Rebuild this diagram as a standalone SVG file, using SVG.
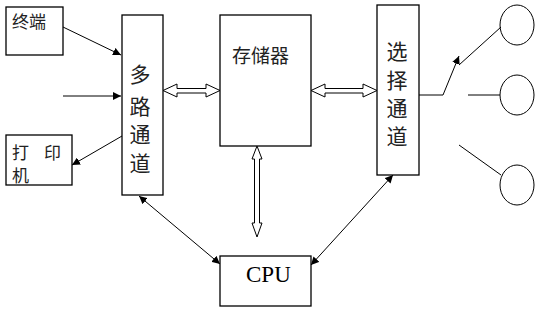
<svg xmlns="http://www.w3.org/2000/svg" width="550" height="314" viewBox="0 0 550 314">
<style>
.box{fill:#fff;stroke:#000;stroke-width:1.3}
.ln{fill:none;stroke:#000;stroke-width:1}
.hol{fill:#fff;stroke:#000;stroke-width:1}
.cjk{font-family:"Noto Sans CJK SC","Noto Sans",sans-serif;fill:#222}
.rom{font-family:"Liberation Serif",serif;fill:#000}
</style>
<defs>
<marker id="ah" viewBox="0 0 10 10" refX="10" refY="5" markerWidth="8" markerHeight="8" markerUnits="userSpaceOnUse" orient="auto-start-reverse">
<path d="M0,0 L10,5 L0,10 Z" fill="#000"/>
</marker>
</defs>
<rect width="550" height="314" fill="#fff"/>
<g id="terminal">
<rect class="box" x="6" y="7" width="57" height="48"/>
<text class="cjk" x="12" y="28" font-size="17">终端</text>
</g>
<g id="printer">
<rect class="box" x="6" y="135" width="66" height="50"/>
<text class="cjk" x="12" y="159" font-size="17">打</text>
<text class="cjk" x="44" y="159" font-size="17">印</text>
<text class="cjk" x="12" y="182" font-size="17">机</text>
</g>
<g id="multiplex">
<rect class="box" x="122" y="15" width="41" height="180"/>
<text class="cjk" font-size="21" text-anchor="middle"><tspan x="140" y="82">多</tspan><tspan x="140" y="114">路</tspan><tspan x="140" y="142">通</tspan><tspan x="140" y="171">道</tspan></text>
</g>
<g id="storage">
<rect class="box" x="220" y="15" width="91" height="131"/>
<text class="cjk" x="232" y="63" font-size="19">存储器</text>
</g>
<g id="selector">
<rect class="box" x="377" y="5" width="42" height="170"/>
<text class="cjk" font-size="21" text-anchor="middle"><tspan x="397" y="59">选</tspan><tspan x="397" y="88">择</tspan><tspan x="397" y="116">通</tspan><tspan x="397" y="144">道</tspan></text>
</g>
<g id="cpu">
<rect class="box" x="220" y="256" width="91" height="50"/>
<text class="rom" x="246" y="282" font-size="23">CPU</text>
</g>
<g id="dev1"><ellipse class="ln" cx="517" cy="25" rx="17" ry="20"/></g>
<g id="dev2"><ellipse class="ln" cx="517" cy="95" rx="17" ry="20"/></g>
<g id="dev3"><ellipse class="ln" cx="517" cy="185" rx="17" ry="20"/></g>
<g id="connectors">
<line class="ln" x1="63" y1="27" x2="121" y2="55" marker-end="url(#ah)"/>
<line class="ln" x1="63" y1="96" x2="121" y2="96" marker-end="url(#ah)"/>
<line class="ln" x1="122" y1="136" x2="72" y2="165" marker-end="url(#ah)"/>
<polygon class="hol" points="163,90.5 177,84 177,88.5 206,88.5 206,84 220,90.5 206,97 206,93 177,93 177,97"/>
<polygon class="hol" points="311,90.5 325,84 325,88.5 363,88.5 363,84 377,90.5 363,97 363,93 325,93 325,97"/>
<polygon class="hol" points="257,146 262,159 259.5,159 259.5,223 262,223 257,237 252,223 254.5,223 254.5,159 252,159"/>
<line class="ln" x1="139" y1="196" x2="220" y2="264" marker-start="url(#ah)" marker-end="url(#ah)"/>
<line class="ln" x1="393" y1="175" x2="311" y2="265" marker-start="url(#ah)" marker-end="url(#ah)"/>
<polyline class="ln" points="419,95 443,95 459,56" marker-end="url(#ah)"/>
<line class="ln" x1="459" y1="65" x2="501" y2="27"/>
<line class="ln" x1="468" y1="95" x2="500" y2="95"/>
<line class="ln" x1="459" y1="145" x2="501" y2="175"/>
</g>
</svg>
